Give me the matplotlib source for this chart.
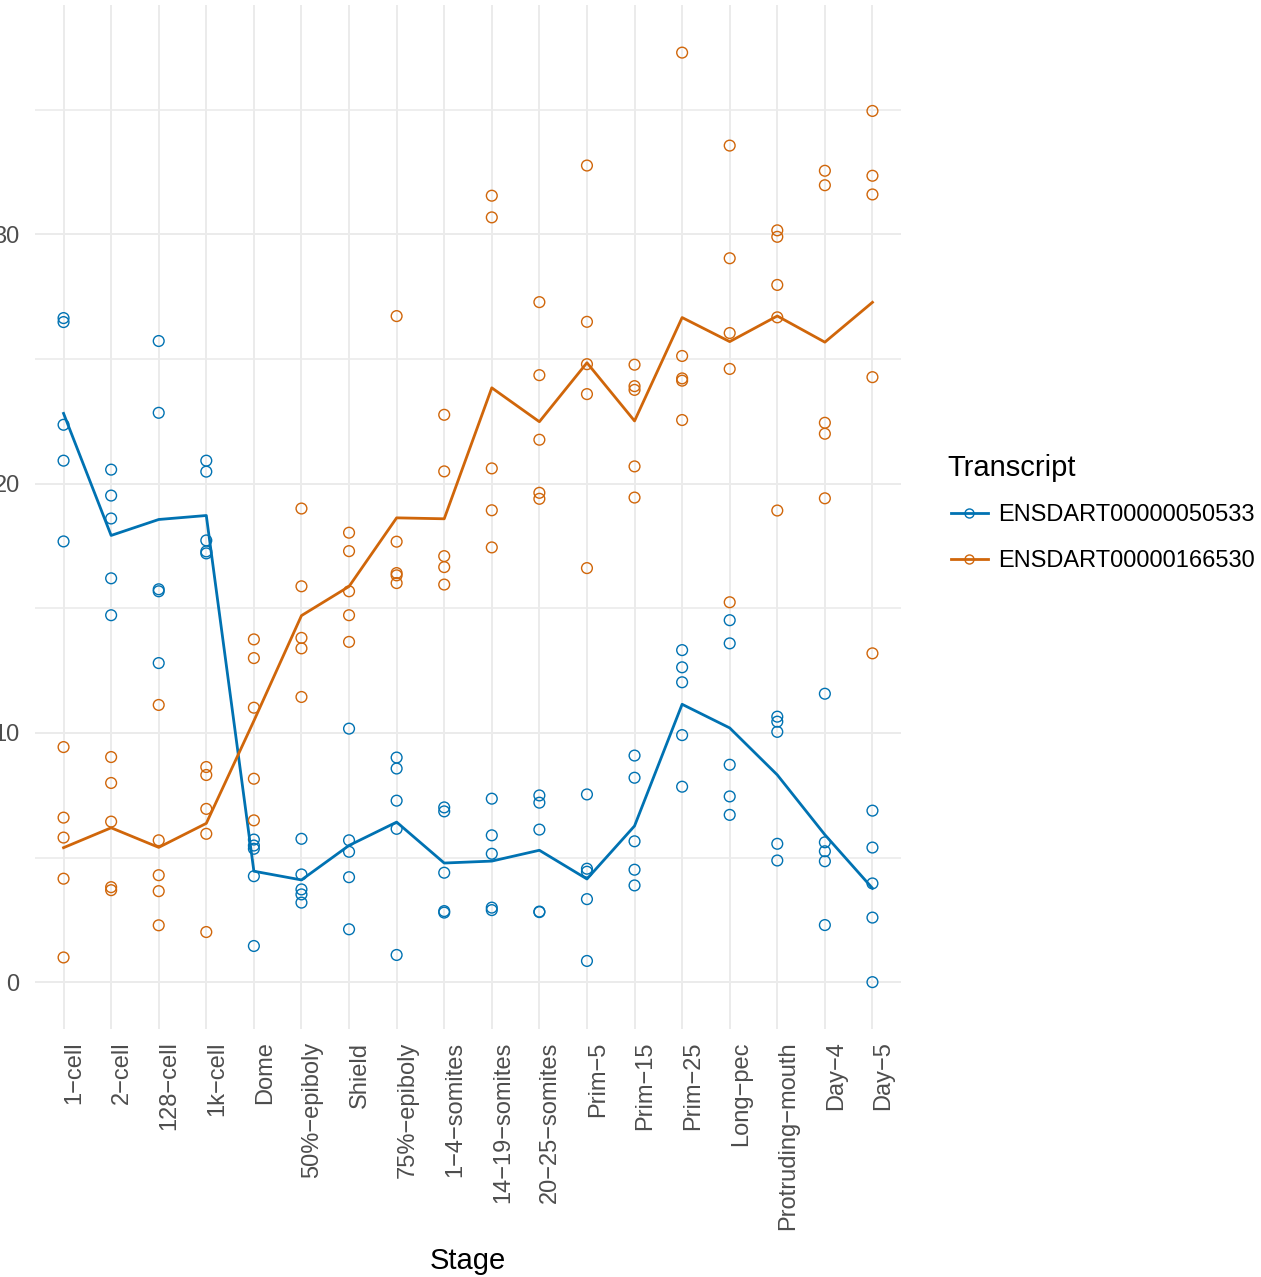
import numpy as np
import matplotlib
matplotlib.use('Agg')
import matplotlib.pyplot as plt
from matplotlib.lines import Line2D

stages = ['1−cell', '2−cell', '128−cell', '1k−cell', 'Dome', '50%−epiboly',
          'Shield', '75%−epiboly', '1−4−somites', '14−19−somites',
          '20−25−somites', 'Prim−5', 'Prim−15', 'Prim−25', 'Long−pec',
          'Protruding−mouth', 'Day−4', 'Day−5']

transcripts = ['ENSDART00000050533', 'ENSDART00000166530']

# replicate values per stage
tx_050533 = [
    [26.64, 26.48, 22.36, 20.92, 17.68],
    [20.56, 19.52, 18.60, 16.20, 14.72],
    [25.72, 22.84, 15.76, 15.68, 12.80],
    [20.92, 20.48, 17.72, 17.28, 17.20],
    [5.72, 5.48, 5.35, 4.25, 1.45],
    [5.75, 4.32, 3.72, 3.52, 3.19],
    [10.17, 5.69, 5.23, 4.21, 2.12],
    [9.01, 8.57, 7.28, 6.15, 1.09],
    [7.01, 6.85, 4.39, 2.85, 2.79],
    [7.36, 5.89, 5.15, 2.99, 2.89],
    [7.49, 7.20, 6.12, 2.83, 2.81],
    [7.53, 4.55, 4.43, 3.33, 0.85],
    [9.09, 8.20, 5.65, 4.51, 3.88],
    [13.32, 12.63, 12.03, 9.91, 7.84],
    [14.52, 13.59, 8.72, 7.45, 6.71],
    [10.65, 10.45, 10.04, 5.55, 4.88],
    [11.57, 5.61, 5.25, 4.85, 2.29],
    [6.88, 5.40, 3.96, 2.59, 0.00],
]

tx_166530 = [
    [9.43, 6.60, 5.80, 4.15, 0.99],
    [9.03, 7.99, 6.44, 3.81, 3.69],
    [11.12, 5.69, 4.29, 3.65, 2.28],
    [8.63, 8.31, 6.95, 5.95, 2.01],
    [13.75, 13.00, 11.01, 8.16, 6.49],
    [19.00, 15.88, 13.81, 13.39, 11.44],
    [18.03, 17.29, 15.68, 14.72, 13.65],
    [26.72, 17.67, 16.41, 16.32, 16.01],
    [22.76, 20.49, 17.09, 16.65, 15.95],
    [31.55, 30.68, 20.61, 18.93, 17.44],
    [27.28, 24.35, 21.76, 19.63, 19.39],
    [32.76, 26.49, 24.79, 23.59, 16.61],
    [24.77, 23.91, 23.76, 20.69, 19.44],
    [37.29, 25.12, 24.22, 24.13, 22.55],
    [33.56, 29.04, 26.04, 24.60, 15.24],
    [30.16, 29.90, 27.97, 26.67, 18.92],
    [32.55, 31.97, 22.44, 22.00, 19.41],
    [34.95, 32.35, 31.60, 24.27, 13.19],
]

colors = ['#0072B2', '#D0660A']

W, H = 1261, 1277
plt.rcParams['font.family'] = ['Liberation Sans', 'DejaVu Sans']
fig = plt.figure(figsize=(W / 100, H / 100), dpi=100)
ax = fig.add_axes([35 / W, 1 - 1029 / H, (901 - 35) / W, (1029 - 5) / H])

x = np.arange(len(stages))
for vals, col in zip([tx_050533, tx_166530], colors):
    arr = np.array(vals)
    xs = np.repeat(x, arr.shape[1])
    ax.scatter(xs, arr.ravel(), s=60, facecolors='none', edgecolors=col,
               linewidths=1.0, zorder=3)
    # line follows the stage means
    ax.plot(x, arr.mean(axis=1), color=col, lw=2.0, zorder=3)

ax.set_xlim(-0.6, len(stages) - 0.4)
ax.set_ylim(-1.88, 39.2)
ax.set_xticks(x)
ax.set_xticklabels(stages, rotation=90, ha='left', va='top')
ax.set_yticks([0, 10, 20, 30])
ax.set_yticks([5, 15, 25, 35], minor=True)
ax.tick_params(axis='both', which='both', length=0, labelsize=17,
               labelcolor='#4D4D4D')
ax.tick_params(axis='y', pad=11)
ax.tick_params(axis='x', pad=9)
ax.grid(True, which='major', color='#EBEBEB', lw=1.4)
ax.grid(True, which='minor', axis='y', color='#EBEBEB', lw=1.2)
ax.set_axisbelow(True)
for s in ax.spines.values():
    s.set_visible(False)

fig.text(468 / W, 1 - 1261 / H, 'Stage', ha='center', va='center', fontsize=21)

handles = [Line2D([], [], color=c, lw=2.0, marker='o', markersize=6.5,
                  markerfacecolor='none', markeredgewidth=1.0) for c in colors]
leg = fig.legend(handles, transcripts, title='Transcript', loc='upper left',
                 bbox_to_anchor=(951 / W, 1 - 454 / H), frameon=False,
                 fontsize=17, title_fontsize=21, alignment='left',
                 handlelength=1.55, handletextpad=0.45, labelspacing=1.0,
                 borderpad=0, borderaxespad=0)
leg._legend_box.sep = 16
leg.get_title().set_position((-4, 0))

fig.savefig('out.png', dpi=100)
